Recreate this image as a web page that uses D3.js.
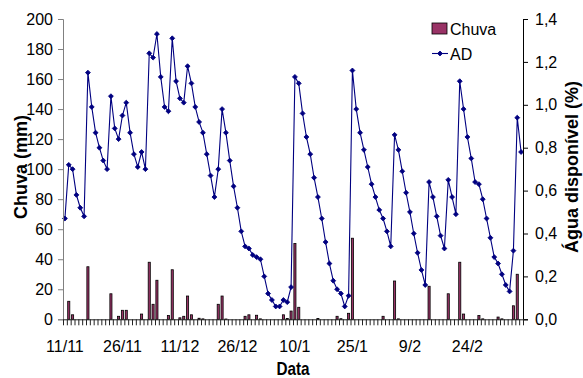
<!DOCTYPE html>
<html>
<head>
<meta charset="utf-8">
<script src="https://cdn.jsdelivr.net/npm/d3@7"></script>
<style>
  body { margin: 0; background: #fff; }
  svg { display: block; font-family: "Liberation Sans", Arial, sans-serif; }
</style>
</head>
<body>
<script>
// daily values, 11/11 to 10/3
const startDay = new Date(2004, 10, 11)
const endDay = new Date(2005, 2, 11)
const tickLabels = ['11/11', '26/11', '11/12', '26/12', '10/1', '25/1', '9/2', '24/2']

// Chuva (mm)
const chuva = [
  0, 12, 3, 0, 0, 0, 35, 0, 0, 0,
  0, 0, 17, 0, 2, 6, 6, 0, 0, 0,
  3.5, 0, 38, 10, 26, 0, 0, 2.5, 33, 0,
  1, 2, 15.5, 3, 0, 0.7, 0.3, 0, 0, 0,
  10, 15.5, 0.2, 0, 0, 0, 0, 2, 3, 0,
  2.7, 0.3, 0, 0, 0, 0, 0, 3, 0.5, 5.5,
  50.5, 8, 0, 0, 0, 0, 0.5, 0, 0, 0,
  0, 2, 0.4, 0, 4, 54, 0, 0, 0, 0,
  0, 0, 0, 2, 0, 0, 25.5, 0.3, 0, 0,
  0, 0, 0, 0, 0, 22, 0, 0, 0, 0,
  17, 0, 0, 38, 3.5, 0, 0, 0, 2.5, 0.3,
  0, 0, 0, 1.5, 0.3, 0, 0, 9, 30, 0
]

// AD - agua disponivel (%)
const ad = [
  0.47, 0.72, 0.70, 0.58, 0.52, 0.48, 1.15, 0.99, 0.87, 0.80,
  0.74, 0.70, 1.04, 0.89, 0.84, 0.95, 1.01, 0.87, 0.77, 0.71,
  0.78, 0.70, 1.24, 1.22, 1.33, 1.13, 0.99, 0.97, 1.31, 1.11,
  1.03, 1.01, 1.18, 1.10, 0.99, 0.92, 0.87, 0.77, 0.67, 0.57,
  0.70, 0.98, 0.87, 0.74, 0.62, 0.52, 0.41, 0.34, 0.33, 0.30,
  0.29, 0.28, 0.20, 0.12, 0.09, 0.06, 0.06, 0.09, 0.08, 0.15,
  1.13, 1.10, 0.96, 0.85, 0.77, 0.66, 0.57, 0.47, 0.36, 0.26,
  0.18, 0.14, 0.12, 0.06, 0.11, 1.16, 0.98, 0.87, 0.79, 0.71,
  0.63, 0.57, 0.51, 0.47, 0.41, 0.34, 0.86, 0.79, 0.69, 0.59,
  0.50, 0.40, 0.31, 0.23, 0.16, 0.64, 0.57, 0.48, 0.39, 0.33,
  0.65, 0.57, 0.49, 1.11, 0.98, 0.85, 0.75, 0.64, 0.63, 0.56,
  0.47, 0.38, 0.29, 0.26, 0.21, 0.16, 0.13, 0.32, 0.94, 0.78
]

const width = 583
const height = 378
const plotLeft = 63, plotRight = 523, plotTop = 19, plotBottom = 319.3

const days = d3.timeDay.range(startDay, endDay)
const rows = days.map((d, i) => ({ day: d, i: i, chuva: chuva[i], ad: ad[i] }))

const svg = d3.select('body')
    .append('svg')
    .attr('width', width)
    .attr('height', height)

const x = d3.scaleBand()
    .domain(d3.range(days.length))
    .range([plotLeft, plotRight])
    .paddingInner(0.45)
    .paddingOuter(0.225)

const xEdge = d3.scaleLinear()
    .domain([0, days.length])
    .range([plotLeft, plotRight])

const yLeft = d3.scaleLinear().domain([0, 200]).range([plotBottom, plotTop])
const yRight = d3.scaleLinear().domain([0, 1.4]).range([plotBottom, plotTop])

const pt = d3.formatLocale({ decimal: ',', thousands: '.', grouping: [3], currency: ['R$', ''] })

// bars
svg.append('g')
    .selectAll('rect')
    .data(rows.filter(d => d.chuva > 0))
    .join('rect')
    .attr('x', d => x(d.i))
    .attr('width', x.bandwidth())
    .attr('y', d => yLeft(d.chuva))
    .attr('height', d => yLeft(0) - yLeft(d.chuva))
    .attr('fill', '#993366')
    .attr('stroke', '#000')
    .attr('stroke-width', 0.8)

// line
const cx = d => xEdge(d.i + 0.5)
svg.append('path')
    .datum(rows)
    .attr('fill', 'none')
    .attr('stroke', '#000080')
    .attr('stroke-width', 1.1)
    .attr('d', d3.line().x(cx).y(d => yRight(d.ad)))

const diamond = d3.symbol().type(d3.symbolSquare).size(12)
svg.append('g')
    .selectAll('path')
    .data(rows)
    .join('path')
    .attr('d', diamond)
    .attr('transform', d => `translate(${cx(d)},${yRight(d.ad)}) rotate(45)`)
    .attr('fill', '#000080')
    .attr('stroke', '#000080')
    .attr('stroke-width', 0.8)

// axes
const gLeft = svg.append('g')
    .attr('transform', `translate(${plotLeft},0)`)
    .call(d3.axisLeft(yLeft).tickValues(d3.range(0, 201, 20)).tickSize(5).tickPadding(5))
gLeft.selectAll('.domain, line').attr('stroke', '#808080')

const gRight = svg.append('g')
    .attr('transform', `translate(${plotRight},0)`)
    .call(d3.axisRight(yRight).tickValues(d3.range(0, 8).map(v => v * 0.2)).tickFormat(pt.format('.1f')).tickSize(5).tickPadding(7))
gRight.selectAll('.domain, line').attr('stroke', '#000')

const gBottom = svg.append('g')
    .attr('transform', `translate(0,${plotBottom})`)
    .call(d3.axisBottom(xEdge).tickValues(d3.range(0, days.length + 1)).tickFormat('').tickSize(6).tickSizeOuter(0))
gBottom.selectAll('.domain, line').attr('stroke', '#222')

const labelIdx = d3.range(0, days.length, 15)
const gLabels = svg.append('g')
    .attr('transform', `translate(0,${plotBottom})`)
    .call(d3.axisBottom(x).tickValues(labelIdx).tickFormat((d, i) => tickLabels[i]).tickSize(0).tickPadding(21))
gLabels.select('.domain').remove()

svg.selectAll('.tick text')
    .attr('font-size', 16)
    .attr('font-family', '"Liberation Sans", Arial, sans-serif')
    .attr('fill', '#000')

// titles
svg.append('text')
    .attr('transform', 'translate(27,167) rotate(-90)')
    .attr('text-anchor', 'middle')
    .attr('font-size', 18)
    .attr('font-weight', 'bold')
    .text('Chuva (mm)')

svg.append('text')
    .attr('transform', 'translate(578,167) rotate(-90)')
    .attr('text-anchor', 'middle')
    .attr('font-size', 18)
    .attr('font-weight', 'bold')
    .text('Água disponível (%)')

svg.append('text')
    .attr('transform', 'translate(293,375) scale(0.85,1)')
    .attr('text-anchor', 'middle')
    .attr('font-size', 18)
    .attr('font-weight', 'bold')
    .text('Data')

// legend
const legend = svg.append('g')
legend.append('rect')
    .attr('x', 432).attr('y', 23)
    .attr('width', 15).attr('height', 11)
    .attr('fill', '#993366')
    .attr('stroke', '#000')
    .attr('stroke-width', 0.8)
legend.append('text')
    .attr('x', 450).attr('y', 35)
    .attr('font-size', 16)
    .text('Chuva')
legend.append('line')
    .attr('x1', 432).attr('x2', 448)
    .attr('y1', 53.5).attr('y2', 53.5)
    .attr('stroke', '#000080')
    .attr('stroke-width', 1.1)
legend.append('path')
    .attr('d', diamond)
    .attr('transform', 'translate(440,53.5) rotate(45)')
    .attr('fill', '#000080')
    .attr('stroke', '#000080')
    .attr('stroke-width', 0.8)
legend.append('text')
    .attr('x', 450).attr('y', 60)
    .attr('font-size', 16)
    .text('AD')
</script>
</body>
</html>
